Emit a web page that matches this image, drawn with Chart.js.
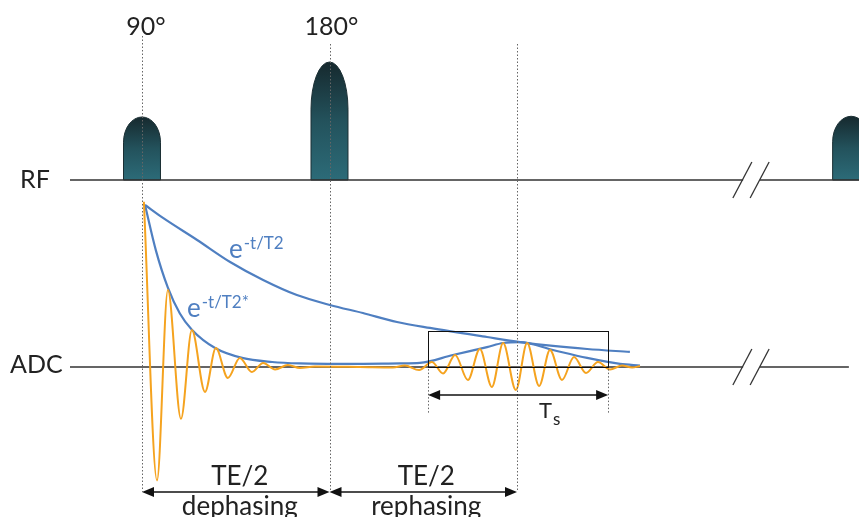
<!DOCTYPE html>
<html><head><meta charset="utf-8">
<script src="https://cdn.jsdelivr.net/npm/chart.js@4.4.1/dist/chart.umd.min.js"></script>
<style>html,body{margin:0;padding:0;background:#fff}#wrap{width:859px;height:517px;position:relative}</style>
</head><body><div id="wrap"><canvas id="c"></canvas></div>
<script>
// Time axis: 90° pulse at t=0, 180° pulse at TE/2, echo at TE (TE = 100 units)
const TE = 100;
const pulseTimes   = [0, 50, 189.1];
const pulseHeights = [0.534, 1.0, 0.54];
const pulseLabels  = ['90°', '180°', ''];
const rowLabels    = ['RF', 'ADC'];

const signalT = [0.5, 4.0, 6.9, 10.4, 13.3, 16.8, 19.7, 22.9, 26.1, 29.3, 32.3, 35.5, 38.9, 42.1, 46.1, 58.1, 66.9, 70.1, 73.9,
  77.3, 80.3, 83.5, 86.9, 90.1, 93.3, 96.3, 99.7, 102.7, 105.9, 108.8, 112.0, 115.2, 118.4, 121.6, 124.8, 128.0, 130.7, 132.8];
const signalA = [1.02, -0.70, 0.475, -0.32, 0.228, -0.154, 0.117, -0.068, 0.056, -0.031, 0.025, -0.015, 0.012, -0.006, 0.003, 0.0, -0.003, 0.009, -0.019,
  0.031, -0.040, 0.074, -0.080, 0.111, -0.123, 0.148, -0.142, 0.148, -0.117, 0.105, -0.080, 0.062, -0.037, 0.031, -0.015, 0.009, -0.003, 0.006];

// T2* envelope (FID decay and echo envelope)
const t2StarT = [0.8, 3.7, 6.9, 10.1, 13.3, 19.5, 26.7, 34.7, 42.1, 55.5, 68.8, 74.1, 82.9, 92.0, 96.3, 100.8, 109.6, 118.7, 127.5, 132.8];
const t2StarA = [1.0, 0.72, 0.49, 0.33, 0.23, 0.117, 0.056, 0.031, 0.022, 0.019, 0.022, 0.025, 0.074, 0.123, 0.148, 0.154, 0.105, 0.056, 0.019, 0.009];

// T2 envelope
const t2T = [0.8, 5.6, 14.7, 23.5, 32.3, 41.3, 50.1, 58.9, 68.0, 76.8, 92.0, 100.8, 109.6, 118.7, 130.1];
const t2A = [1.0, 0.92, 0.784, 0.648, 0.537, 0.444, 0.383, 0.333, 0.278, 0.241, 0.185, 0.154, 0.130, 0.111, 0.093];

const envelopeLabels = [{base: 'e', sup: '-t/T2', t: 23.2, a: 0.673}, {base: 'e', sup: '-t/T2*', t: 12.0, a: 0.309}];
const phaseLabels = ['dephasing', 'rephasing'];
const tsWindow = [76.3, 124.3];
const tsBoxTop = 0.222;
const rfLine  = [-19.2, 160.3, 164.8, 191.5];
const adcLine = [-19.2, 160.3, 164.8, 188.5];
const breakT = [160.1, 164.7];

const BLUE = '#4f7fc1', ORANGE = '#f5a31f', DARK = '#222';

function pts(T, A) { return T.map((t, i) => ({x: t, y: A[i]})); }
function seg(L) { return [{x: L[0], y: 0}, {x: L[1], y: 0}, {x: (L[1] + L[2]) / 2, y: null}, {x: L[2], y: 0}, {x: L[3], y: 0}]; }

function arrowHead(ctx, x, y, dir) {
  ctx.beginPath();
  ctx.moveTo(x, y);
  ctx.lineTo(x - dir * 12, y - 5);
  ctx.lineTo(x - dir * 12, y + 5);
  ctx.closePath();
  ctx.fill();
}
function dArrow(ctx, x0, x1, y) {
  ctx.beginPath(); ctx.moveTo(x0 + 4, y); ctx.lineTo(x1 - 4, y); ctx.stroke();
  arrowHead(ctx, x0, y, -1); arrowHead(ctx, x1, y, 1);
}
function vDots(ctx, x, y0, y1) {
  ctx.save(); ctx.strokeStyle = '#666'; ctx.lineWidth = 1; ctx.setLineDash([1.5, 2]);
  ctx.beginPath(); ctx.moveTo(Math.round(x) + 0.5, y0); ctx.lineTo(Math.round(x) + 0.5, y1); ctx.stroke(); ctx.restore();
}

const diagram = {
  id: 'diagram',
  beforeDatasetsDraw(chart) {
    const ctx = chart.ctx, X = chart.scales.x, R = chart.scales.yRF;
    const hw = 4.93;
    pulseTimes.forEach((t, i) => {
      const x0 = X.getPixelForValue(t - hw), x1 = X.getPixelForValue(t + hw), cx = (x0 + x1) / 2;
      const base = R.getPixelForValue(0), top = R.getPixelForValue(pulseHeights[i]);
      const rx = (x1 - x0) / 2, ry = (base - top) * 0.4;
      const g = ctx.createLinearGradient(0, top, 0, base);
      g.addColorStop(0, '#16292e'); g.addColorStop(0.5, '#23525c'); g.addColorStop(1, '#2c6b78');
      ctx.save();
      ctx.beginPath(); ctx.moveTo(x0, base); ctx.lineTo(x0, top + ry);
      ctx.ellipse(cx, top + ry, rx, ry, 0, Math.PI, 2 * Math.PI);
      ctx.lineTo(x1, base); ctx.closePath();
      ctx.fillStyle = g; ctx.fill();
      ctx.strokeStyle = '#1b2f34'; ctx.lineWidth = 1; ctx.stroke();
      ctx.restore();
    });
  },
  afterDatasetsDraw(chart) {
    const ctx = chart.ctx, X = chart.scales.x, Y = chart.scales.y, R = chart.scales.yRF;
    const px = t => X.getPixelForValue(t), py = a => Y.getPixelForValue(a), pr = a => R.getPixelForValue(a);
    // dotted guides
    vDots(ctx, px(0), 36, py(-0.77));
    vDots(ctx, px(TE / 2), 44, py(-0.77));
    vDots(ctx, px(TE), 44, py(-0.77));
    vDots(ctx, px(tsWindow[0]), py(0.03), py(-0.285));
    vDots(ctx, px(tsWindow[1]), py(0.03), py(-0.285));
    // acquisition box
    ctx.save(); ctx.strokeStyle = '#111'; ctx.lineWidth = 1;
    ctx.strokeRect(Math.round(px(tsWindow[0])) + 0.5, Math.round(py(tsBoxTop)) + 0.5,
      Math.round(px(tsWindow[1]) - px(tsWindow[0])), Math.round(py(0) - py(tsBoxTop)));
    ctx.restore();
    // arrows
    ctx.save(); ctx.strokeStyle = '#111'; ctx.fillStyle = '#111'; ctx.lineWidth = 1.5;
    dArrow(ctx, px(tsWindow[0]), px(tsWindow[1]), py(-0.173));
    dArrow(ctx, px(0), px(TE / 2), py(-0.772));
    dArrow(ctx, px(TE / 2), px(TE), py(-0.772));
    ctx.restore();
    // break marks
    ctx.save(); ctx.strokeStyle = '#333'; ctx.lineWidth = 1.3;
    [pr(0), py(0)].forEach(yb => {
      breakT.forEach(t => {
        const x = px(t);
        ctx.beginPath(); ctx.moveTo(x - 9.5, yb + 18); ctx.lineTo(x + 9.5, yb - 18); ctx.stroke();
      });
    });
    ctx.restore();
    // texts
    ctx.save();
    ctx.fillStyle = DARK; ctx.textBaseline = 'alphabetic';
    ctx.font = '25px Lato'; ctx.textAlign = 'center';
    ctx.fillText(pulseLabels[0], px(0) + 4, 35);
    ctx.fillText(pulseLabels[1], px(TE / 2) + 2, 35);
    ctx.textAlign = 'left';
    ctx.fillText(rowLabels[0], 20, pr(0) + 8);
    ctx.fillText(rowLabels[1], 10, py(0) + 6);
    ctx.font = '26px Lato'; ctx.textAlign = 'center';
    ctx.fillText('TE/2', (px(0) + px(TE / 2)) / 2 + 4, py(-0.728));
    ctx.fillText('TE/2', (px(TE / 2) + px(TE)) / 2 + 3, py(-0.728));
    ctx.fillText(phaseLabels[0], (px(0) + px(TE / 2)) / 2 + 4, 515);
    ctx.fillText(phaseLabels[1], (px(TE / 2) + px(TE)) / 2 + 3, 515);
    ctx.textAlign = 'left';
    ctx.font = '22px Lato';
    ctx.fillText('T', 539, py(-0.315));
    ctx.font = '17px Lato';
    ctx.fillText('s', 553, py(-0.358));
    ctx.fillStyle = BLUE;
    envelopeLabels.forEach(l => {
      const x = px(l.t), y = py(l.a);
      ctx.font = '26px Lato'; ctx.fillText(l.base, x, y);
      const w = ctx.measureText(l.base).width;
      ctx.font = '17px Lato'; ctx.fillText(l.sup, x + w + 1, y - 8.5);
    });
    ctx.restore();
  }
};

new Chart(document.getElementById('c'), {
  type: 'line',
  data: {
    datasets: [
      {data: pts(signalT, signalA), borderColor: ORANGE, borderWidth: 2, pointRadius: 0, cubicInterpolationMode: 'monotone', order: 0, yAxisID: 'y'},
      {data: pts(t2StarT, t2StarA), borderColor: BLUE, borderWidth: 2.2, pointRadius: 0, cubicInterpolationMode: 'monotone', order: 1, yAxisID: 'y'},
      {data: pts(t2T, t2A), borderColor: BLUE, borderWidth: 2.2, pointRadius: 0, cubicInterpolationMode: 'monotone', order: 1, yAxisID: 'y'},
      {data: seg(adcLine), borderColor: '#333', borderWidth: 1.5, pointRadius: 0, spanGaps: false, order: 3, yAxisID: 'y'},
      {data: seg(rfLine), borderColor: '#333', borderWidth: 1.5, pointRadius: 0, spanGaps: false, order: 3, yAxisID: 'yRF'}
    ]
  },
  options: {
    responsive: true, maintainAspectRatio: false, animation: false,
    layout: {padding: 0, autoPadding: false},
    plugins: {legend: {display: false}, tooltip: {enabled: false}, title: {display: false}},
    events: [],
    scales: {
      x: {type: 'linear', display: false, bounds: 'data', min: -142 / 3.75, max: (859 - 142) / 3.75},
      y: {type: 'linear', display: false, bounds: 'data', min: -150 / 162, max: 367 / 162},
      yRF: {type: 'linear', display: false, bounds: 'data', min: -337 / 118, max: 180 / 118}
    }
  },
  plugins: [diagram]
});
</script></body></html>
